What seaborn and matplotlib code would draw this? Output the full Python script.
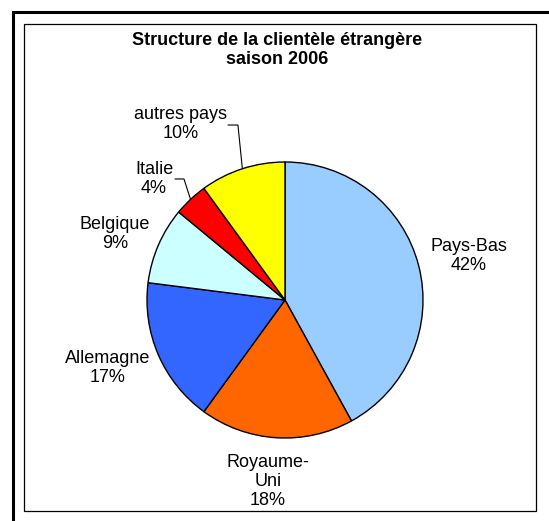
import numpy as np
import seaborn as sns
import matplotlib.pyplot as plt
from matplotlib.patches import Rectangle

# Data
countries = ["Pays-Bas", "Royaume-\nUni", "Allemagne", "Belgique", "Italie", "autres pays"]
shares = [42, 18, 17, 9, 4, 10]
colors = ["#99CCFF", "#FF6600", "#3366FF", "#CCFFFF", "#FF0000", "#FFFF00"]

# Label layout (in pie-radius units, relative to the pie centre)
label_pos = [(1.333, 0.319), (-0.123, -1.312), (-1.283, -0.493),
             (-1.232, 0.478), (-0.949, 0.877), (-0.754, 1.275)]
# leader lines: start point and elbow (None = no leader)
leaders = [None, None, None, None,
           ((-0.797, 0.877), (-0.732, 0.877)),
           ((-0.413, 1.268), (-0.341, 1.268))]

# pie geometry in pixels (centre, radius)
cx, cy, r = 285, 300, 138
W, H = 549, 521

sns.set_theme(style="white")
plt.rcParams['font.family'] = ['Liberation Sans', 'DejaVu Sans']

fig = plt.figure(figsize=(W / 100, H / 100), dpi=100)
ax = fig.add_axes([0, 0, 1, 1])

wedges, _ = ax.pie(shares, colors=colors, startangle=90, counterclock=False,
                   radius=1, center=(0, 0),
                   wedgeprops=dict(edgecolor="black", linewidth=1.0))
ax.set_aspect("auto")
ax.set_xlim(-cx / r, (W - cx) / r)
ax.set_ylim(-(H - cy) / r, cy / r)
ax.axis("off")

for w, name, val, (lx, ly), lead in zip(wedges, countries, shares, label_pos, leaders):
    ax.text(lx, ly, f"{name}\n{val}%", ha="center", va="center",
            fontsize=13, color="black", linespacing=1.15)
    if lead is not None:
        mid = np.deg2rad((w.theta1 + w.theta2) / 2)
        (sx, sy), (ex, ey) = lead
        ax.plot([sx, ex, np.cos(mid)], [sy, ey, np.sin(mid)],
                color="black", lw=0.8)

# Title
fig.text(277 / W, 1 - 50 / H, "Structure de la clientèle étrangère\nsaison 2006",
         ha="center", va="center", fontsize=13, fontweight="bold",
         color="black", linespacing=1.15)

# Frames
fig.patches.append(Rectangle((13 / W, -0.1), 1.2, 1 - 12 / H + 0.1,
                             transform=fig.transFigure, fill=False,
                             edgecolor="black", linewidth=2.2))
fig.patches.append(Rectangle((24 / W, 1 - 511 / H), 512 / W, 487 / H,
                             transform=fig.transFigure, fill=False,
                             edgecolor="black", linewidth=0.9))

fig.savefig("out.png", dpi=100, facecolor="white")
